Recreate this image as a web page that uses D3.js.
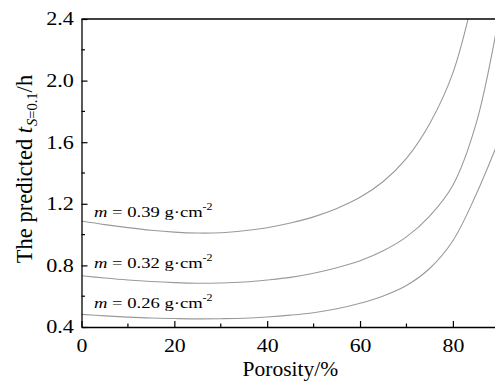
<!DOCTYPE html>
<html>
<head>
<meta charset="utf-8">
<script src="https://cdn.jsdelivr.net/npm/d3@7"></script>
<style>
  body { margin: 0; background: #fff; }
  svg { display: block; font-family: "Liberation Serif", "Times New Roman", serif; }
</style>
</head>
<body>
<div id="chart"></div>
<script>
const FRAME_WIDTH = 495;
const FRAME_HEIGHT = 387;
const MARGINS = {left: 81.5, top: 19, bottom: 60};
const PLOT_RIGHT = 499.3;

// porosity (%) and predicted time (h) for each loading
const porosity = [0, 5, 10, 15, 20, 25, 30, 35, 40, 45, 50, 55, 60, 65, 70, 75, 80, 85, 90];
const m039 = [1.088, 1.065, 1.045, 1.028, 1.016, 1.010, 1.012, 1.025, 1.045, 1.075, 1.115, 1.170, 1.242, 1.345, 1.495, 1.720, 2.050, 2.620, 3.400];
const m032 = [0.733, 0.718, 0.705, 0.695, 0.688, 0.684, 0.686, 0.692, 0.705, 0.722, 0.749, 0.785, 0.830, 0.895, 0.985, 1.120, 1.320, 1.720, 2.430];
const m026 = [0.482, 0.472, 0.464, 0.458, 0.455, 0.453, 0.454, 0.457, 0.465, 0.477, 0.493, 0.518, 0.554, 0.602, 0.670, 0.780, 0.960, 1.260, 1.620];
const seriesNames = ["0.39", "0.32", "0.26"];
const labelY = [1.116, 0.785, 0.521];
const labelX = 2.7;

const xMajor = [0, 20, 40, 60, 80];
const xMinor = [10, 30, 50, 70];
const yMajor = [0.4, 0.8, 1.2, 1.6, 2.0, 2.4];
const yMinor = [0.6, 1.0, 1.4, 1.8, 2.2];

const svg = d3.select("#chart").append("svg")
    .attr("width", FRAME_WIDTH)
    .attr("height", FRAME_HEIGHT);

const X_SCALE = d3.scaleLinear().domain([0, 90]).range([MARGINS.left, PLOT_RIGHT]);
const Y_SCALE = d3.scaleLinear().domain([0.4, 2.4]).range([FRAME_HEIGHT - MARGINS.bottom, MARGINS.top]);
const Y0 = Y_SCALE(0.4);

svg.append("clipPath").attr("id", "plotclip")
  .append("rect")
    .attr("x", MARGINS.left)
    .attr("y", MARGINS.top)
    .attr("width", PLOT_RIGHT - MARGINS.left)
    .attr("height", Y0 - MARGINS.top);

// curves
const line = d3.line()
    .x((d, i) => X_SCALE(porosity[i]))
    .y(d => Y_SCALE(d))
    .curve(d3.curveCatmullRom.alpha(0.5));

svg.append("g").attr("clip-path", "url(#plotclip)")
  .selectAll("path")
  .data([m039, m032, m026])
  .enter()
  .append("path")
    .attr("d", line)
    .attr("fill", "none")
    .attr("stroke", "#9a9a9a")
    .attr("stroke-width", 1.1);

// top frame line
svg.append("line")
    .attr("x1", MARGINS.left).attr("x2", PLOT_RIGHT)
    .attr("y1", MARGINS.top).attr("y2", MARGINS.top)
    .attr("stroke", "#000").attr("stroke-width", 1.3);

// x axis
const xAxis = svg.append("g")
    .attr("transform", `translate(0,${Y0})`)
    .call(d3.axisBottom(X_SCALE).tickValues(xMajor).tickSizeInner(-6).tickSizeOuter(0).tickPadding(0))
    .attr("font-family", null)
    .attr("font-size", null);
xAxis.select(".domain").attr("stroke-width", 1.3);
xAxis.selectAll(".tick line").attr("stroke-width", 1.2);
xAxis.selectAll(".tick text")
    .attr("y", 25.5).attr("dy", 0)
    .attr("font-size", 18.5)
    .attr("transform", "scale(1.18,1)")
    .attr("fill", "#000");
xAxis.selectAll(".minor")
  .data(xMinor)
  .enter().append("line")
    .attr("x1", d => X_SCALE(d)).attr("x2", d => X_SCALE(d))
    .attr("y1", 0).attr("y2", -3.5)
    .attr("stroke", "#000").attr("stroke-width", 1.2);

// y axis
const yAxis = svg.append("g")
    .attr("transform", `translate(${MARGINS.left},0)`)
    .call(d3.axisLeft(Y_SCALE).tickValues(yMajor).tickFormat(d3.format(".1f")).tickSizeInner(-6).tickSizeOuter(0).tickPadding(0))
    .attr("font-family", null)
    .attr("font-size", null);
yAxis.select(".domain").attr("stroke-width", 1.3);
yAxis.selectAll(".tick line").attr("stroke-width", 1.2);
yAxis.selectAll(".tick text")
    .attr("x", -6.3)
    .attr("font-size", 18.5)
    .attr("transform", "scale(1.2,1)")
    .attr("fill", "#000");
yAxis.selectAll(".minor")
  .data(yMinor)
  .enter().append("line")
    .attr("y1", d => Y_SCALE(d)).attr("y2", d => Y_SCALE(d))
    .attr("x1", 0).attr("x2", 3.5)
    .attr("stroke", "#000").attr("stroke-width", 1.2);
svg.selectAll(".domain").attr("stroke", "#000");

// series labels
seriesNames.forEach((name, i) => {
  const t = svg.append("text")
      .attr("transform", `translate(${X_SCALE(labelX)},${Y_SCALE(labelY[i])}) scale(1.2,1)`)
      .attr("font-size", 15.5)
      .attr("fill", "#000");
  t.append("tspan").attr("font-style", "italic").text("m");
  t.append("tspan").text(` = ${name} g\u00b7cm`);
  t.append("tspan").attr("font-size", 10).attr("dy", -7).text("-2");
});

// axis titles
svg.append("text")
    .attr("x", X_SCALE(45))
    .attr("y", 376)
    .attr("text-anchor", "middle")
    .attr("font-size", 21.5)
    .attr("fill", "#000")
    .text("Porosity/%");

const yt = svg.append("text")
    .attr("transform", `translate(32,${(MARGINS.top + Y0) / 2 - 4}) rotate(-90)`)
    .attr("text-anchor", "middle")
    .attr("font-size", 22.5)
    .attr("fill", "#000");
yt.append("tspan").text("The predicted ");
yt.append("tspan").attr("font-style", "italic").text("t");
yt.append("tspan").attr("font-size", 14.5).attr("dy", 5).attr("dx", 1).html("<tspan font-style='italic'>S</tspan>=0.1");
yt.append("tspan").attr("dy", -5).text("/h");
</script>
</body>
</html>
